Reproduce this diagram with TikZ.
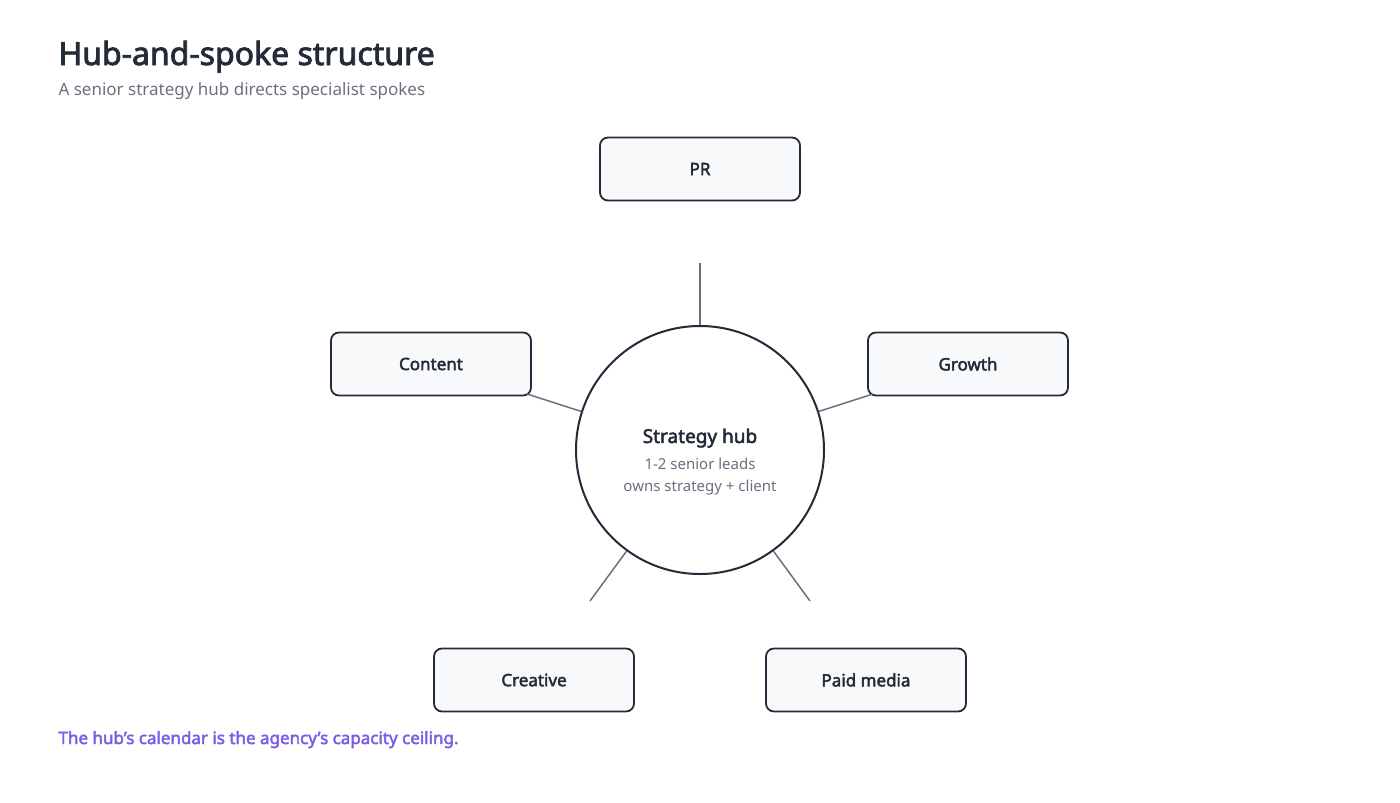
\documentclass[tikz,border=0pt]{standalone}
\usepackage{fontspec}
\setmainfont{Noto Sans}
\newfontfamily\heavy{Noto Sans}[FakeBold=2.5]
\definecolor{ink}{HTML}{232A38}
\definecolor{muted}{HTML}{6B7080}
\definecolor{boxfill}{HTML}{F8F9FB}
\definecolor{accent}{HTML}{7B5CE6}
\tikzset{
	spoke/.style={rounded corners=8pt, draw=ink, line width=1.8pt, fill=boxfill,
		minimum width=200pt, minimum height=63pt, font=\fontsize{17}{20}\selectfont\heavy, text=ink},
	link/.style={draw=muted, line width=1.5pt}
}
\begin{document}
\begin{tikzpicture}[x=1pt,y=-1pt]
		
		\useasboundingbox (0,0) rectangle (1400,803);
		
		\node[anchor=base west, font=\fontsize{32}{36}\selectfont\heavy, text=ink] (title) at (55,65) {Hub-and-spoke structure};
		\node[anchor=base west, font=\fontsize{17}{20}\selectfont, text=muted] (subtitle) at (55,95) {A senior strategy hub directs specialist spokes};
		
		\node[circle, draw=ink, line width=2pt, fill=white, minimum size=248pt, inner sep=0pt] (hub) at (700,450) {};
		\node[font=\fontsize{19}{22}\selectfont\heavy, text=ink] (hubname) at (700,438) {Strategy hub};
		\node[font=\fontsize{15}{22}\selectfont, text=muted, align=center] (hubnote) at (700,477) {1-2 senior leads\\owns strategy + client};
		
		\node[spoke] (pr) at (700,169) {PR};
		\node[spoke] (content) at (431,364) {Content};
		\node[spoke] (growth) at (968,364) {Growth};
		\node[spoke] (creative) at (534,680) {Creative};
		\node[spoke] (paid) at (866,680) {Paid media};
		
		\coordinate (endpr) at (700,263);
		\coordinate (endcontent) at (527,394);
		\coordinate (endgrowth) at (873,394);
		\coordinate (endcreative) at (590,601);
		\coordinate (endpaid) at (810,601);
		
		\draw[link] (hub.90) -- (endpr);
		\draw[link] (hub.162) -- (endcontent);
		\draw[link] (hub.18) -- (endgrowth);
		\draw[link] (hub.234) -- (endcreative);
		\draw[link] (hub.306) -- (endpaid);
		
		\node[anchor=base west, font=\fontsize{17}{20}\selectfont\heavy, text=accent] (note) at (55,744) {The hub’s calendar is the agency’s capacity ceiling.};
		
	\end{tikzpicture}
\end{document}
